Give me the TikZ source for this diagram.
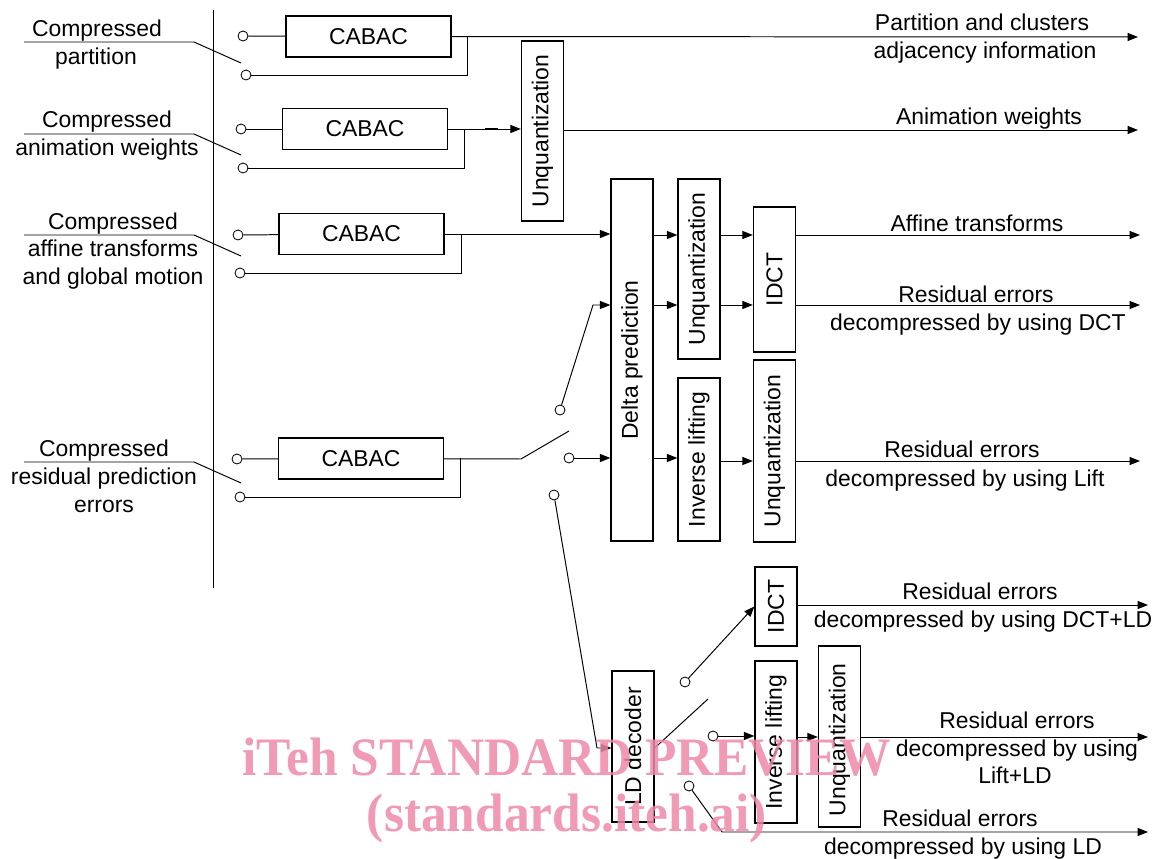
\documentclass[tikz,border=0pt]{standalone}
\usepackage{fontspec}
\usepackage{graphicx}
\setmainfont{Liberation Sans}
\newfontfamily\wmfont{Liberation Serif}
\usetikzlibrary{arrows.meta}

\begin{document}
\begin{tikzpicture}[x=0.025cm,y=-0.025cm,
  font=\fontsize{16.3}{19.5}\selectfont,
  line width=.7pt,
  >={Triangle[length=2.6mm,width=2mm]},
  box/.style 2 args={draw,line width=.9pt,inner sep=0pt,
    minimum width=#1*0.025cm,minimum height=#2*0.025cm},
  term/.style={circle,draw,line width=.6pt,inner sep=0pt,
    minimum size=10*0.025cm},
  lbl/.style={inner sep=0pt,text height=11.7pt,text depth=0pt},
  wm/.style={font=\wmfont\bfseries\fontsize{38.5}{42}\selectfont,
    text=wmpink,text opacity=.85,inner sep=0pt,xscale=.95}]
 \definecolor{wmpink}{RGB}{238,136,168}
 \useasboundingbox (0,0) rectangle (1160,859);

 % decoders
 \foreach \nm/\xp/\yp in {
   cabacA/368.5/36.5, cabacB/365/129,
   cabacC/361.5/234, cabacD/361/458.5
 } {
   \node[box={165}{41}] (\nm) at (\xp,\yp) {CABAC};
 }
 \foreach \nm/\xp/\yp/\hgt/\txt in {
   unqA/542.5/131/180/Unquantization,
   delta/632/360/362/Delta prediction,
   unqB/699/269/180/Unquantization,
   idctA/774.5/279.5/145/IDCT,
   liftA/699/459.5/163/Inverse lifting,
   unqC/774.5/451/182/Unquantization,
   lddec/633/746.5/151/LD decoder,
   idctB/776/606.5/79/IDCT,
   liftB/776/742/162/Inverse lifting,
   unqD/839.5/736.5/181/Unquantization
 } {
   \node[box={42}{\hgt}] (\nm) at (\xp,\yp) {\rotatebox{90}{\txt}};
 }

 % switch contacts
 \foreach \nm/\xp/\yp in {
   cA1/243/36, cA2/246/75, cB1/241/129, cB2/243/168,
   cC1/238/235, cC2/240/273, cD1/237/459, cD2/240/497,
   swA/560/410, swB/569/458, swC/554/495,
   swD/685/682, swE/713/736, swF/689/786
 } {
   \node[term] (\nm) at (\xp,\yp) {};
 }

 % texts
 \foreach \nm/\xp/\yp/\txt in {
   tA1/97/28/Compressed, tA2/96/56/partition,
   tB1/107/119/Compressed, tB2/107/147/animation weights,
   tC1/113/221/Compressed, tC2/113/248/affine transforms,
   tC3/113/276/and global motion,
   tD1/104/448/Compressed, tD2/104/476/residual prediction,
   tD3/104/504/errors,
   oA1/982/22/Partition and clusters, oA2/985/50/adjacency information,
   oB1/989/116/Animation weights,
   oC1/977/223/Affine transforms,
   oD1/976/294/Residual errors, oD2/978/322/decompressed by using DCT,
   oE1/962/449/Residual errors, oE2/965/478/decompressed by using Lift,
   oF1/980/591/Residual errors, oF2/983/619/decompressed by using DCT+LD,
   oG1/1017/720/Residual errors, oG2/1017/748/decompressed by using,
   oG3/1015/775/Lift+LD,
   oH1/960/818/Residual errors, oH2/963/846/decompressed by using LD
 } {
   \node[lbl] (\nm) at (\xp,\yp) {\txt};
 }

 % input bus and selector arms
 \coordinate (busT) at (213,10);
 \coordinate (busB) at (213,588);
 \draw (busT) -- (busB);
 \foreach \yp in {42,134,235,462} {
   \draw (24,\yp) -- (194,\yp) -- (241,\yp+21);
 }

 \coordinate (oA) at (1138,37);
 \coordinate (oB) at (1138,130);
 \coordinate (oC) at (1140,235);
 \coordinate (oD) at (1140,305);
 \coordinate (oE) at (1140,461);
 \coordinate (oF) at (1148,605);
 \coordinate (oG) at (1148,737);
 \coordinate (oH) at (1148,832);
 \coordinate (jA) at (467,36.5);
 \coordinate (jB) at (464,129);
 \coordinate (jC) at (461,234);
 \coordinate (jD) at (460,458.5);
 \coordinate (pvA) at (521,459);
 \coordinate (armA) at (569,431);
 \coordinate (bdA) at (593,305);
 \coordinate (bdB) at (597,748);
 \coordinate (armB) at (708,699);
 \coordinate (bdC) at (722,832);

 % first rows
 \draw (cA1) -- (cabacA);
 \draw[->] (cabacA) -- (oA);
 \draw (jA) |- (cA2);
 \draw (cB1) -- (cabacB);
 \draw[->] (cabacB) -- (unqA.west |- cabacB);
 \draw[line width=2pt] (485,129) -- (498,129);
 \draw (jB) |- (cB2);
 \draw[->] (unqA.east |- oB) -- (oB);
 \draw (cC1) -- (cabacC);
 \draw[->] (cabacC) -- (delta.west |- cabacC);
 \draw (jC) |- (cC2);
 \draw[->] (delta.east |- oC) -- (unqB.west |- oC);
 \draw[->] (unqB.east |- oC) -- (idctA.west |- oC);
 \draw[->] (idctA.east |- oC) -- (oC);

 % residual errors
 \draw (cD1) -- (cabacD);
 \draw (jD) |- (cD2);
 \draw (cabacD) -- (pvA) -- (armA);
 \draw[->] (swA) -- (bdA) -- (delta.west |- bdA);
 \draw[->] (delta.east |- oD) -- (unqB.west |- oD);
 \draw[->] (unqB.east |- oD) -- (idctA.west |- oD);
 \draw[->] (idctA.east |- oD) -- (oD);
 \draw[->] (swB) -- (delta.west |- swB);
 \draw[->] (delta.east |- swB) -- (liftA.west |- swB);
 \draw[->] (liftA.east |- oE) -- (unqC.west |- oE);
 \draw[->] (unqC.east |- oE) -- (oE);

 % LD branch
 \draw[->] (swC) -- (bdB) -- (lddec.west |- bdB);
 \draw (lddec.east |- bdB) -- (armB);
 \draw[->] (swD) -- (idctB.west);
 \draw[->] (idctB.east |- oF) -- (oF);
 \draw[->] (swE) -- (liftB.west |- swE);
 \draw[->] (liftB.east |- oG) -- (unqD.west |- oG);
 \draw[->] (unqD.east |- oG) -- (oG);
 \draw[->] (swF) -- (bdC) -- (oH);

 \node[wm] (wmA) at (567,757) {iTeh STANDARD PREVIEW};
 \node[wm] (wmB) at (567,818) {(standards.iteh.ai)};
\end{tikzpicture}
\end{document}
